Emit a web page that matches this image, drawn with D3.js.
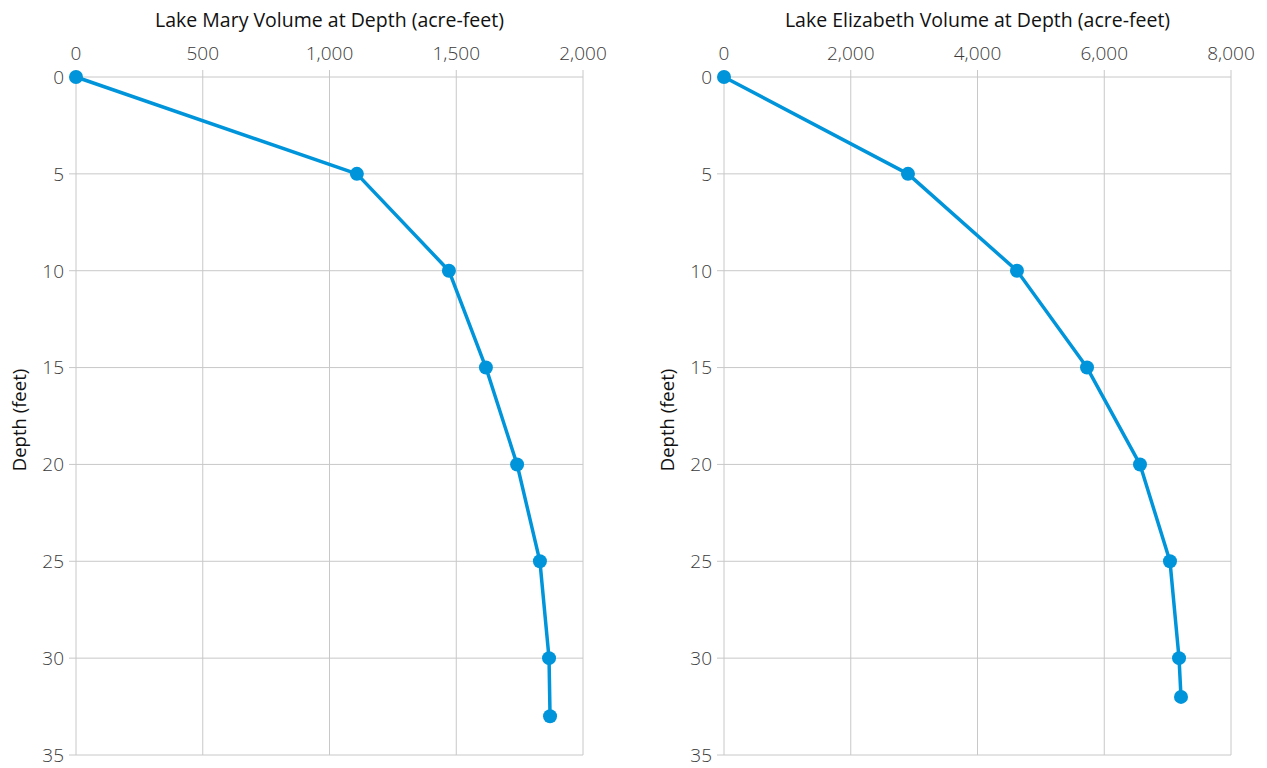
<!DOCTYPE html>
<html>
<head>
<meta charset="utf-8">
<script src="https://cdn.jsdelivr.net/npm/d3@7"></script>
<style>
  body { margin: 0; background: #fff; }
  svg { display: block; font-family: "Open Sans", "Noto Sans", sans-serif; }
</style>
</head>
<body>
<div id="chart"></div>
<script>
// Depth / volume readings for each lake
const maryDepth = [0, 5, 10, 15, 20, 25, 30, 33]
const maryVolume = [0, 1108, 1471, 1617, 1740, 1830, 1866, 1870]
const elizabethDepth = [0, 5, 10, 15, 20, 25, 30, 32]
const elizabethVolume = [0, 2903, 4623, 5728, 6564, 7037, 7180, 7211]

const depthTicks = [0, 5, 10, 15, 20, 25, 30, 35]
const maryTicks = [0, 500, 1000, 1500, 2000]
const elizabethTicks = [0, 2000, 4000, 6000, 8000]

const width = 1267
const height = 768
const color = "#0095da"
const gridColor = "#c8c8c8"

const svg = d3.select("#chart")
  .append("svg")
  .attr("width", width)
  .attr("height", height)

const panels = [
  { title: "Lake Mary Volume at Depth (acre-feet)", depth: maryDepth, volume: maryVolume,
    ticks: maryTicks, max: 2000, left: 76, right: 583 },
  { title: "Lake Elizabeth Volume at Depth (acre-feet)", depth: elizabethDepth, volume: elizabethVolume,
    ticks: elizabethTicks, max: 8000, left: 724, right: 1231 }
]

const plotTop = 77
const plotBottom = 755
const fmt = d3.format(",")

panels.forEach(p => {
  const x = d3.scaleLinear().domain([0, p.max]).range([p.left, p.right])
  const y = d3.scaleLinear().domain([0, 35]).range([plotTop, plotBottom])
  const g = svg.append("g")

  // vertical gridlines (extend a little above as ticks)
  g.selectAll(".vgrid")
    .data(p.ticks)
    .join("line")
    .attr("x1", d => x(d)).attr("x2", d => x(d))
    .attr("y1", plotTop - 7).attr("y2", plotBottom)
    .attr("stroke", gridColor)
    .attr("stroke-width", 1)

  // horizontal gridlines (extend a little left as ticks)
  g.selectAll(".hgrid")
    .data(depthTicks)
    .join("line")
    .attr("x1", p.left - 7).attr("x2", p.right)
    .attr("y1", d => y(d)).attr("y2", d => y(d))
    .attr("stroke", gridColor)
    .attr("stroke-width", 1)

  // x tick labels on top
  g.selectAll(".xlab")
    .data(p.ticks)
    .join("text")
    .attr("x", d => x(d))
    .attr("y", 60)
    .attr("text-anchor", "middle")
    .attr("fill", "#3a3a3a")
    .attr("font-size", "19px")
    .attr("font-weight", 300)
    .text(d => fmt(d))

  // y tick labels
  g.selectAll(".ylab")
    .data(depthTicks)
    .join("text")
    .attr("x", p.left - 12)
    .attr("y", d => y(d))
    .attr("dy", "0.36em")
    .attr("text-anchor", "end")
    .attr("fill", "#3a3a3a")
    .attr("font-size", "19px")
    .attr("font-weight", 300)
    .text(d => d)

  // title
  g.append("text")
    .attr("x", (p.left + p.right) / 2)
    .attr("y", 27)
    .attr("text-anchor", "middle")
    .attr("fill", "#111")
    .attr("font-size", "19.5px")
    .text(p.title)

  // y axis title
  g.append("text")
    .attr("transform", `translate(${p.left - 50},${(plotTop + plotBottom) / 2 + 4}) rotate(-90)`)
    .attr("text-anchor", "middle")
    .attr("fill", "#111")
    .attr("font-size", "18.5px")
    .text("Depth (feet)")

  const pts = p.depth.map((d, i) => [x(p.volume[i]), y(d)])

  g.append("path")
    .attr("d", d3.line()(pts))
    .attr("fill", "none")
    .attr("stroke", color)
    .attr("stroke-width", 3.5)
    .attr("stroke-linejoin", "round")

  g.selectAll(".pt")
    .data(pts)
    .join("circle")
    .attr("cx", d => d[0]).attr("cy", d => d[1])
    .attr("r", 7)
    .attr("fill", color)
})
</script>
</body>
</html>
